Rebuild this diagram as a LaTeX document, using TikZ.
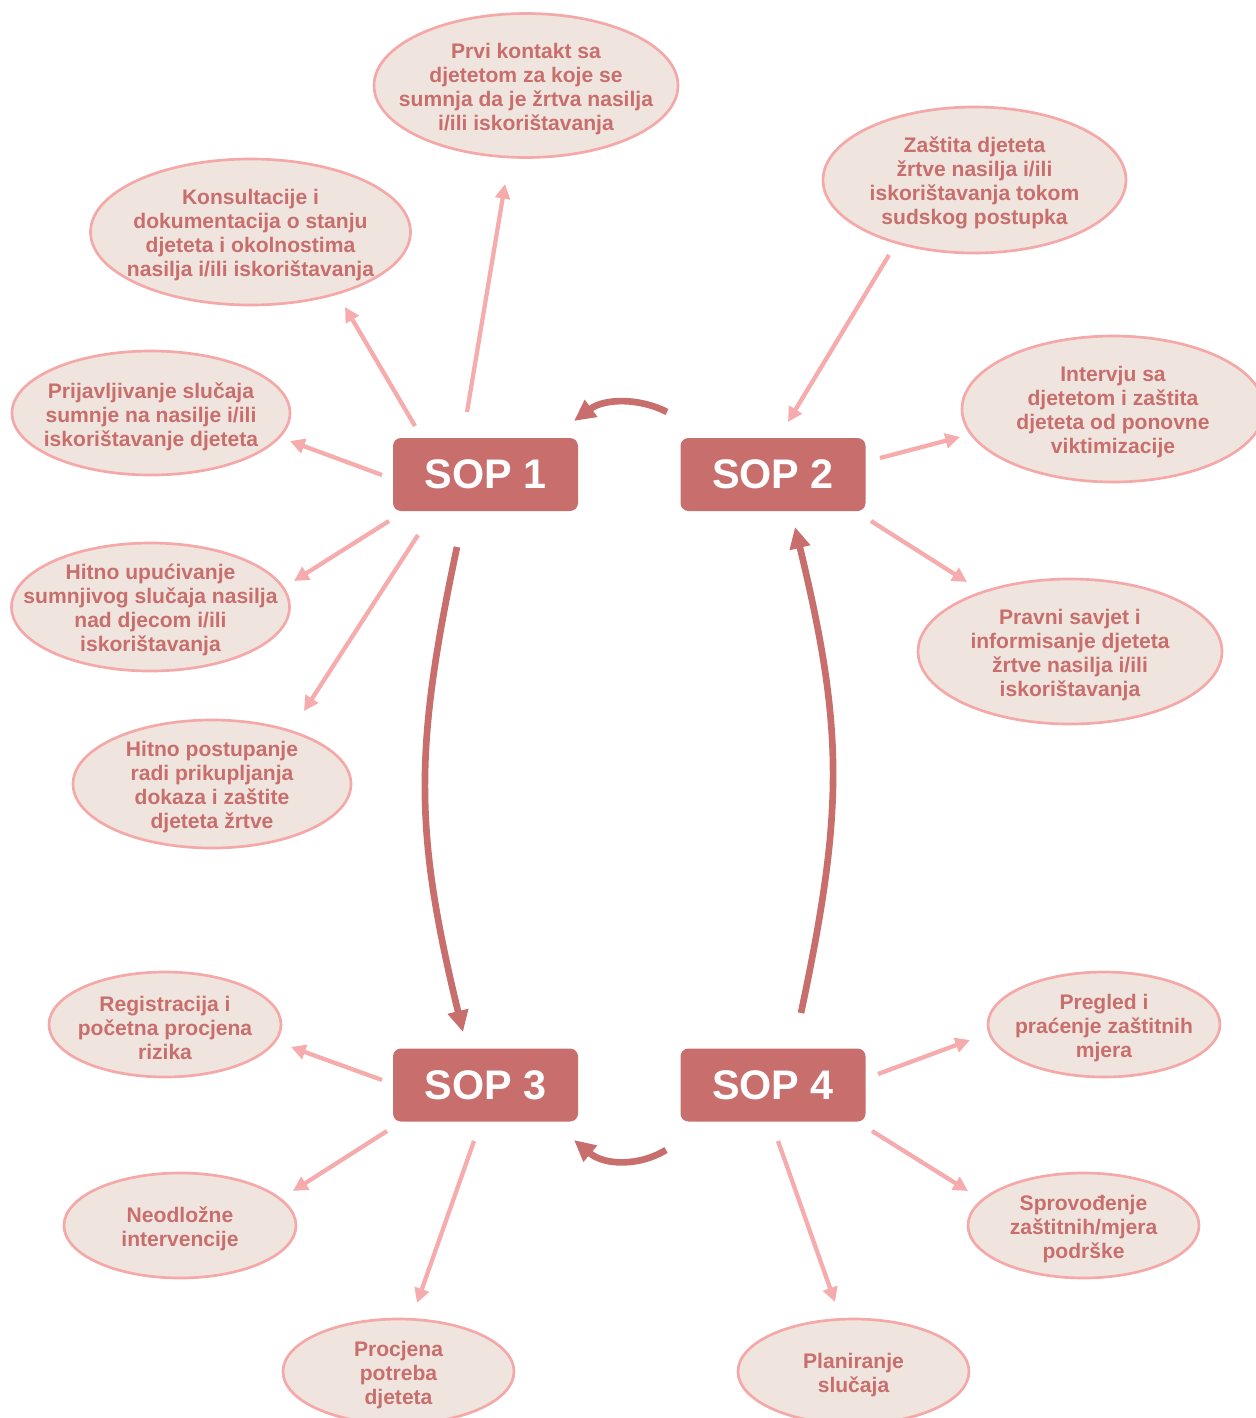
\documentclass[tikz,border=0pt]{standalone}
\usepackage{fontspec}
\setmainfont{Liberation Sans}
\usetikzlibrary{shapes.geometric,arrows.meta}
\definecolor{sopred}{RGB}{200,110,108}
\definecolor{ellfill}{RGB}{240,228,222}
\definecolor{ellline}{RGB}{244,168,168}
\definecolor{lightarrow}{RGB}{246,172,172}
\begin{document}
\begin{tikzpicture}[x=0.75pt,y=-0.75pt,
 sopbox/.style={fill=sopred, rounded corners=6pt, minimum width=138.75pt, minimum height=54.75pt, text=white, font=\bfseries\fontsize{31}{36}\selectfont, inner sep=0pt},
 bubbletext/.style={text=sopred, align=center, inner sep=0pt, yshift=-2.5pt, font=\bfseries\fontsize{15.8}{18}\selectfont},
 bubble/.style={ellipse, draw=ellline, line width=2pt, fill=ellfill, inner sep=0pt, label={[bubbletext]center:#1}},
 esize/.style 2 args={minimum width=#1*1.5pt, minimum height=#2*1.5pt},
 thinarrow/.style={draw=lightarrow, line width=3.2pt, -{Triangle[length=11pt,width=11pt]}},
 thickarrow/.style={draw=sopred, line width=5pt, -{Triangle[length=16pt,width=15pt]}}]
\fill[white] (0,0) rectangle (1256,1418);
\useasboundingbox (0,0) rectangle (1256,1418);

% SOP boxes
\node[sopbox] (sop1) at (485.5,474.5) {SOP 1};
\node[sopbox] (sop2) at (773,474.5) {SOP 2};
\node[sopbox] (sop3) at (485.5,1085) {SOP 3};
\node[sopbox] (sop4) at (773,1085) {SOP 4};

% bubbles
\node[bubble={Prvi kontakt sa\\djetetom za koje se\\sumnja da je žrtva nasilja\\i/ili iskorištavanja}, esize={152}{72}] (e1) at (526,85.5) {};
\node[bubble={Konsultacije i\\dokumentacija o stanju\\djeteta i okolnostima\\nasilja i/ili iskorištavanja}, esize={160}{73}] (e2) at (250.5,232) {};
\node[bubble={Prijavljivanje slučaja\\sumnje na nasilje i/ili\\iskorištavanje djeteta}, esize={139}{62}] (e3) at (151,413) {};
\node[bubble={Hitno upućivanje\\sumnjivog slučaja nasilja\\nad djecom i/ili\\iskorištavanja}, esize={139}{64}] (e4) at (150.5,607) {};
\node[bubble={Hitno postupanje\\radi prikupljanja\\dokaza i zaštite\\djeteta žrtve}, esize={139}{64}] (e5) at (212,784) {};
\node[bubble={Zaštita djeteta\\žrtve nasilja i/ili\\iskorištavanja tokom\\sudskog postupka}, esize={151.5}{73}] (e6) at (974.5,180) {};
\node[bubble={Intervju sa\\djetetom i zaštita\\djeteta od ponovne\\viktimizacije}, esize={151}{73}] (e7) at (1113,409) {};
\node[bubble={Pravni savjet i\\informisanje djeteta\\žrtve nasilja i/ili\\iskorištavanja}, esize={152}{72.5}] (e8) at (1070,651.5) {};
\node[every label/.append style={yshift=-1.5pt}, bubble={Registracija i\\početna procjena\\rizika}, esize={116}{52.5}] (e9) at (165,1024.5) {};
\node[every label/.append style={yshift=-1pt}, bubble={Neodložne\\intervencije}, esize={116}{52.5}] (e10) at (180,1225.5) {};
\node[every label/.append style={yshift=-4pt}, bubble={Procjena\\potreba\\djeteta}, esize={115.5}{52.5}] (e11) at (398.5,1371.5) {};
\node[bubble={Pregled i\\praćenje zaštitnih\\mjera}, esize={116}{52.5}] (e12) at (1104,1024.5) {};
\node[bubble={Sprovođenje\\zaštitnih/mjera\\podrške}, esize={115.5}{52.5}] (e13) at (1083.5,1225.5) {};
\node[every label/.append style={yshift=-1pt}, bubble={Planiranje\\slučaja}, esize={115.5}{52.5}] (e14) at (853.5,1371.5) {};

% arrow end points
\coordinate (s1e1) at (467,412);  \coordinate (t1e1) at (505,184);
\coordinate (s1e2) at (415,426);  \coordinate (t1e2) at (345,307);
\coordinate (s1e3) at (382,475);  \coordinate (t1e3) at (290,441);
\coordinate (s1e4) at (389,521);  \coordinate (t1e4) at (294,581);
\coordinate (s1e5) at (418,535);  \coordinate (t1e5) at (304,711);
\coordinate (se6) at (889,255);   \coordinate (te6) at (788,422);
\coordinate (s2e7) at (880,458);  \coordinate (t2e7) at (960,437);
\coordinate (s2e8) at (871,521);  \coordinate (t2e8) at (967,582);
\coordinate (s3e9) at (382,1080); \coordinate (t3e9) at (291,1047);
\coordinate (s3e10) at (387,1131);\coordinate (t3e10) at (293,1191);
\coordinate (s3e11) at (474,1141);\coordinate (t3e11) at (417,1303);
\coordinate (s4e12) at (878,1074);\coordinate (t4e12) at (970,1040);
\coordinate (s4e13) at (872,1131);\coordinate (t4e13) at (968,1191);
\coordinate (s4e14) at (778,1141);\coordinate (t4e14) at (835,1302);

\draw[thinarrow] (s1e1) -- (t1e1);
\draw[thinarrow] (s1e2) -- (t1e2);
\draw[thinarrow] (s1e3) -- (t1e3);
\draw[thinarrow] (s1e4) -- (t1e4);
\draw[thinarrow] (s1e5) -- (t1e5);
\draw[thinarrow] (se6) -- (te6);
\draw[thinarrow] (s2e7) -- (t2e7);
\draw[thinarrow] (s2e8) -- (t2e8);
\draw[thinarrow] (s3e9) -- (t3e9);
\draw[thinarrow] (s3e10) -- (t3e10);
\draw[thinarrow] (s3e11) -- (t3e11);
\draw[thinarrow] (s4e12) -- (t4e12);
\draw[thinarrow] (s4e13) -- (t4e13);
\draw[thinarrow] (s4e14) -- (t4e14);

% cycle arrows
\coordinate (c21s) at (667,412); \coordinate (c21t) at (574,421);
\coordinate (c13s) at (457,547); \coordinate (c13t) at (463,1032);
\coordinate (c43s) at (666,1150); \coordinate (c43t) at (574,1140);
\coordinate (c42s) at (801,1013); \coordinate (c42t) at (795,527);
\draw[thickarrow] (c21s) .. controls (640,398) and (605,398) .. (c21t);
\draw[thickarrow] (c13s) .. controls (414,750) and (414,830) .. (c13t);
\draw[thickarrow] (c43s) .. controls (640,1166) and (605,1166) .. (c43t);
\draw[thickarrow] (c42s) .. controls (844,810) and (844,730) .. (c42t);
\end{tikzpicture}
\end{document}
